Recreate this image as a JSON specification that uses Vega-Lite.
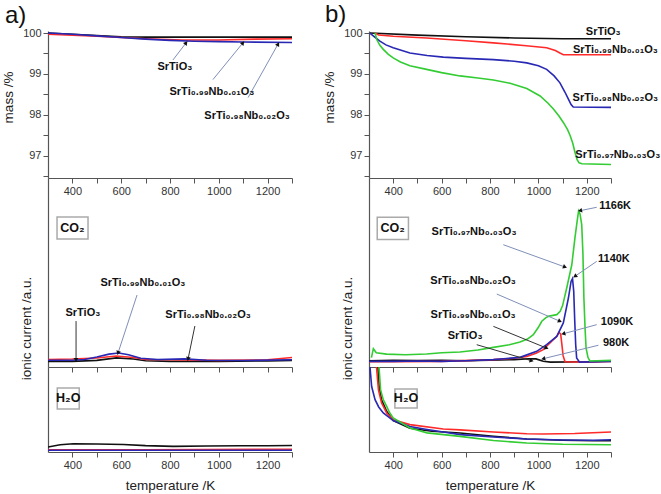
{
"$schema":"https://vega.github.io/schema/vega-lite/v6.json",
"padding":{"left":0,"top":2,"right":0,"bottom":2},
"background":"white",
"config":{"view":{"stroke":null},
 "axis":{"domainColor":"#555","tickColor":"#555","labelColor":"#333","labelFont":"Liberation Sans","labelFontSize":11,"titleFont":"Liberation Sans","titleFontSize":13.5,"titleFontWeight":"normal","titleColor":"#222","grid":false,"tickSize":5,"domainWidth":1.2},
 "title":{"font":"Liberation Sans","fontSize":24,"fontWeight":"normal","anchor":"start","frame":"group","color":"#111"},
 "point":{"shape":"triangle-up","filled":true,"size":22,"color":"#111","opacity":1}
},
"datasets":{
"massA":[
{"s":"x0","T":300,"v":100},{"s":"x0","T":400,"v":99.97},{"s":"x0","T":500,"v":99.94},{"s":"x0","T":600,"v":99.91},{"s":"x0","T":700,"v":99.9},{"s":"x0","T":900,"v":99.9},{"s":"x0","T":1100,"v":99.9},{"s":"x0","T":1300,"v":99.9},
{"s":"x1","T":300,"v":99.97},{"s":"x1","T":500,"v":99.92},{"s":"x1","T":700,"v":99.86},{"s":"x1","T":850,"v":99.83},{"s":"x1","T":1000,"v":99.83},{"s":"x1","T":1150,"v":99.85},{"s":"x1","T":1300,"v":99.86},
{"s":"x2","T":300,"v":100},{"s":"x2","T":400,"v":99.97},{"s":"x2","T":500,"v":99.93},{"s":"x2","T":600,"v":99.89},{"s":"x2","T":700,"v":99.85},{"s":"x2","T":800,"v":99.82},{"s":"x2","T":900,"v":99.8},{"s":"x2","T":1000,"v":99.79},{"s":"x2","T":1100,"v":99.78},{"s":"x2","T":1300,"v":99.77}
],
"massB":[
{"s":"x0","T":304,"v":100},{"s":"x0","T":500,"v":99.95},{"s":"x0","T":700,"v":99.91},{"s":"x0","T":900,"v":99.88},{"s":"x0","T":1100,"v":99.86},{"s":"x0","T":1300,"v":99.86},
{"s":"x1","T":325,"v":100},{"s":"x1","T":340,"v":99.95},{"s":"x1","T":400,"v":99.92},{"s":"x1","T":538,"v":99.88},{"s":"x1","T":700,"v":99.81},{"s":"x1","T":814,"v":99.76},{"s":"x1","T":950,"v":99.69},{"s":"x1","T":1034,"v":99.64},{"s":"x1","T":1070,"v":99.57},{"s":"x1","T":1089,"v":99.51},{"s":"x1","T":1103,"v":99.47},{"s":"x1","T":1300,"v":99.47},
{"s":"x2","T":304,"v":100},{"s":"x2","T":320,"v":99.92},{"s":"x2","T":345,"v":99.8},{"s":"x2","T":370,"v":99.71},{"s":"x2","T":400,"v":99.64},{"s":"x2","T":469,"v":99.51},{"s":"x2","T":540,"v":99.45},{"s":"x2","T":607,"v":99.41},{"s":"x2","T":700,"v":99.38},{"s":"x2","T":814,"v":99.35},{"s":"x2","T":900,"v":99.31},{"s":"x2","T":952,"v":99.27},{"s":"x2","T":1000,"v":99.2},{"s":"x2","T":1034,"v":99.11},{"s":"x2","T":1065,"v":98.95},{"s":"x2","T":1089,"v":98.78},{"s":"x2","T":1110,"v":98.55},{"s":"x2","T":1124,"v":98.38},{"s":"x2","T":1135,"v":98.25},{"s":"x2","T":1144,"v":98.19},{"s":"x2","T":1300,"v":98.18},
{"s":"x3","T":325,"v":100},{"s":"x3","T":332,"v":99.84},{"s":"x3","T":345,"v":99.7},{"s":"x3","T":359,"v":99.6},{"s":"x3","T":380,"v":99.48},{"s":"x3","T":400,"v":99.39},{"s":"x3","T":430,"v":99.29},{"s":"x3","T":469,"v":99.2},{"s":"x3","T":538,"v":99.11},{"s":"x3","T":600,"v":99.03},{"s":"x3","T":676,"v":98.95},{"s":"x3","T":750,"v":98.9},{"s":"x3","T":814,"v":98.85},{"s":"x3","T":883,"v":98.77},{"s":"x3","T":952,"v":98.64},{"s":"x3","T":1007,"v":98.46},{"s":"x3","T":1040,"v":98.28},{"s":"x3","T":1062,"v":98.14},{"s":"x3","T":1085,"v":97.97},{"s":"x3","T":1103,"v":97.81},{"s":"x3","T":1120,"v":97.64},{"s":"x3","T":1131,"v":97.49},{"s":"x3","T":1142,"v":97.3},{"s":"x3","T":1151,"v":97.08},{"s":"x3","T":1160,"v":96.9},{"s":"x3","T":1168,"v":96.82},{"s":"x3","T":1180,"v":96.8},{"s":"x3","T":1300,"v":96.78}
],
"co2A":[
{"s":"x0","T":300,"v":3.0},{"s":"x0","T":400,"v":3.0},{"s":"x0","T":500,"v":3.5},{"s":"x0","T":580,"v":4.8},{"s":"x0","T":650,"v":4.2},{"s":"x0","T":700,"v":3.3},{"s":"x0","T":800,"v":3.0},{"s":"x0","T":1000,"v":3.0},{"s":"x0","T":1200,"v":3.2},{"s":"x0","T":1300,"v":3.5},
{"s":"x1","T":300,"v":4.0},{"s":"x1","T":400,"v":4.2},{"s":"x1","T":500,"v":4.8},{"s":"x1","T":580,"v":5.8},{"s":"x1","T":650,"v":5.0},{"s":"x1","T":700,"v":4.0},{"s":"x1","T":800,"v":3.8},{"s":"x1","T":1000,"v":3.5},{"s":"x1","T":1200,"v":3.8},{"s":"x1","T":1300,"v":5.0},
{"s":"x2","T":300,"v":3.6},{"s":"x2","T":400,"v":3.6},{"s":"x2","T":450,"v":4.0},{"s":"x2","T":500,"v":5.3},{"s":"x2","T":550,"v":6.8},{"s":"x2","T":590,"v":7.4},{"s":"x2","T":630,"v":6.5},{"s":"x2","T":680,"v":4.6},{"s":"x2","T":750,"v":4.0},{"s":"x2","T":860,"v":4.3},{"s":"x2","T":950,"v":3.6},{"s":"x2","T":1100,"v":3.4},{"s":"x2","T":1300,"v":3.8}
],
"co2B":[
{"s":"x0","T":300,"v":3.3},{"s":"x0","T":400,"v":3.6},{"s":"x0","T":500,"v":3.4},{"s":"x0","T":600,"v":3.5},{"s":"x0","T":700,"v":3.3},{"s":"x0","T":800,"v":3.6},{"s":"x0","T":900,"v":3.9},{"s":"x0","T":960,"v":4.4},{"s":"x0","T":990,"v":4.3},{"s":"x0","T":1020,"v":3.0},{"s":"x0","T":1050,"v":2.6},{"s":"x0","T":1200,"v":2.8},{"s":"x0","T":1300,"v":3.2},
{"s":"x1","T":300,"v":2.8},{"s":"x1","T":400,"v":2.8},{"s":"x1","T":600,"v":3.0},{"s":"x1","T":814,"v":3.9},{"s":"x1","T":900,"v":4.6},{"s":"x1","T":952,"v":5.6},{"s":"x1","T":990,"v":7.3},{"s":"x1","T":1020,"v":9.2},{"s":"x1","T":1055,"v":13.6},{"s":"x1","T":1076,"v":16.2},{"s":"x1","T":1085,"v":18.3},{"s":"x1","T":1092,"v":17.5},{"s":"x1","T":1097,"v":12},{"s":"x1","T":1102,"v":6},{"s":"x1","T":1110,"v":2.8},{"s":"x1","T":1200,"v":2.6},{"s":"x1","T":1300,"v":3.0},
{"s":"x2","T":300,"v":3.0},{"s":"x2","T":400,"v":3.0},{"s":"x2","T":500,"v":3.2},{"s":"x2","T":600,"v":3.0},{"s":"x2","T":700,"v":3.3},{"s":"x2","T":814,"v":3.9},{"s":"x2","T":924,"v":5.1},{"s":"x2","T":993,"v":8.3},{"s":"x2","T":1034,"v":11.8},{"s":"x2","T":1076,"v":16.2},{"s":"x2","T":1103,"v":23.3},{"s":"x2","T":1124,"v":36.5},{"s":"x2","T":1135,"v":45.3},{"s":"x2","T":1141,"v":46.8},{"s":"x2","T":1146,"v":40},{"s":"x2","T":1150,"v":25},{"s":"x2","T":1154,"v":12},{"s":"x2","T":1158,"v":4.8},{"s":"x2","T":1170,"v":2.6},{"s":"x2","T":1300,"v":3.0},
{"s":"x3","T":310,"v":5},{"s":"x3","T":318,"v":9.7},{"s":"x3","T":330,"v":7.5},{"s":"x3","T":373,"v":6.8},{"s":"x3","T":450,"v":6.5},{"s":"x3","T":538,"v":6.9},{"s":"x3","T":600,"v":7.5},{"s":"x3","T":676,"v":7.9},{"s":"x3","T":750,"v":9},{"s":"x3","T":814,"v":10.4},{"s":"x3","T":880,"v":11.8},{"s":"x3","T":924,"v":13.2},{"s":"x3","T":955,"v":14.8},{"s":"x3","T":979,"v":17.1},{"s":"x3","T":1000,"v":21},{"s":"x3","T":1014,"v":24.2},{"s":"x3","T":1030,"v":26},{"s":"x3","T":1041,"v":26.8},{"s":"x3","T":1060,"v":27.3},{"s":"x3","T":1076,"v":27.7},{"s":"x3","T":1090,"v":29.5},{"s":"x3","T":1100,"v":32.5},{"s":"x3","T":1117,"v":41.8},{"s":"x3","T":1138,"v":54.1},{"s":"x3","T":1151,"v":68.3},{"s":"x3","T":1160,"v":77},{"s":"x3","T":1166,"v":82.6},{"s":"x3","T":1172,"v":81},{"s":"x3","T":1179,"v":75.3},{"s":"x3","T":1184,"v":60},{"s":"x3","T":1188,"v":36.5},{"s":"x3","T":1193,"v":20},{"s":"x3","T":1197,"v":10},{"s":"x3","T":1205,"v":5},{"s":"x3","T":1213,"v":3.2},{"s":"x3","T":1300,"v":3.5}
],
"h2oA":[
{"s":"x0","T":300,"v":5.8},{"s":"x0","T":350,"v":8.5},{"s":"x0","T":404,"v":9.7},{"s":"x0","T":500,"v":9.5},{"s":"x0","T":609,"v":8.9},{"s":"x0","T":700,"v":7.5},{"s":"x0","T":813,"v":6.6},{"s":"x0","T":950,"v":7.0},{"s":"x0","T":1087,"v":7.4},{"s":"x0","T":1200,"v":7.3},{"s":"x0","T":1300,"v":7.7},
{"s":"x1","T":300,"v":2.7},{"s":"x1","T":700,"v":2.7},{"s":"x1","T":1300,"v":3.3},
{"s":"x2","T":300,"v":2.0},{"s":"x2","T":1300,"v":2.0}
],
"h2oB":[
{"s":"x0","T":334,"v":110},{"s":"x0","T":342,"v":77.3},{"s":"x0","T":352,"v":61.5},{"s":"x0","T":373,"v":47.9},{"s":"x0","T":400,"v":37},{"s":"x0","T":469,"v":28},{"s":"x0","T":560,"v":24.5},{"s":"x0","T":676,"v":22.4},{"s":"x0","T":814,"v":18.5},{"s":"x0","T":952,"v":15.3},{"s":"x0","T":1100,"v":13.8},{"s":"x0","T":1227,"v":13.3},{"s":"x0","T":1300,"v":13.3},
{"s":"x1","T":328,"v":110},{"s":"x1","T":339,"v":73},{"s":"x1","T":352,"v":57.6},{"s":"x1","T":373,"v":45.9},{"s":"x1","T":400,"v":38},{"s":"x1","T":469,"v":32.2},{"s":"x1","T":607,"v":27},{"s":"x1","T":676,"v":26},{"s":"x1","T":814,"v":23.5},{"s":"x1","T":952,"v":21.5},{"s":"x1","T":1020,"v":21.2},{"s":"x1","T":1150,"v":21.8},{"s":"x1","T":1300,"v":23.5},
{"s":"x2","T":301,"v":110},{"s":"x2","T":311,"v":77},{"s":"x2","T":325,"v":61.5},{"s":"x2","T":340,"v":53},{"s":"x2","T":359,"v":46},{"s":"x2","T":400,"v":37},{"s":"x2","T":469,"v":30},{"s":"x2","T":540,"v":26.5},{"s":"x2","T":607,"v":23.5},{"s":"x2","T":676,"v":20.4},{"s":"x2","T":814,"v":17.6},{"s":"x2","T":952,"v":15.3},{"s":"x2","T":1100,"v":14.2},{"s":"x2","T":1227,"v":13.9},{"s":"x2","T":1300,"v":14.5},
{"s":"x3","T":339,"v":110},{"s":"x3","T":348,"v":73},{"s":"x3","T":359,"v":61.5},{"s":"x3","T":373,"v":53.7},{"s":"x3","T":386,"v":45.9},{"s":"x3","T":400,"v":40},{"s":"x3","T":469,"v":28.2},{"s":"x3","T":540,"v":22.5},{"s":"x3","T":676,"v":18.4},{"s":"x3","T":814,"v":13.5},{"s":"x3","T":952,"v":10.6},{"s":"x3","T":1100,"v":9.2},{"s":"x3","T":1300,"v":8.6}
],
"lblMassA":[{"T":820,"v":99.17,"label":"SrTiO₃"},{"T":972,"v":98.56,"label":"SrTi₀.₉₉Nb₀.₀₁O₃"},{"T":1116,"v":97.98,"label":"SrTi₀.₉₈Nb₀.₀₂O₃"}],
"arrMassA":[{"T":812,"v":99.34,"T2":866,"v2":99.76},{"T":976,"v":98.86,"T2":1099,"v2":99.76},{"T":1120,"v":98.42,"T2":1243,"v2":99.73}],
"lblMassB":[{"T":1268,"v":100.03,"label":"SrTiO₃"},{"T":1318,"v":99.59,"label":"SrTi₀.₉₉Nb₀.₀₁O₃"},{"T":1318,"v":98.42,"label":"SrTi₀.₉₈Nb₀.₀₂O₃"},{"T":1328,"v":97.02,"label":"SrTi₀.₉₇Nb₀.₀₃O₃"}],
"lblCo2A":[{"T":689,"v":44.4,"label":"SrTi₀.₉₉Nb₀.₀₁O₃"},{"T":443,"v":28.6,"label":"SrTiO₃"},{"T":956,"v":27.5,"label":"SrTi₀.₉₈Nb₀.₀₂O₃"}],
"arrCo2Agrey":[{"T":665,"v":38.1,"T2":587,"v2":7.4}],
"arrCo2Adark":[{"T":415,"v":24.3,"T2":415,"v2":3.7},{"T":902,"v":21.7,"T2":874,"v2":4.2}],
"lblCo2B":[{"T":1317,"v":85.2,"label":"1166K"},{"T":1312,"v":57.3,"label":"1140K"},{"T":1325,"v":23.8,"label":"1090K"},{"T":1321,"v":12.7,"label":"980K"},{"T":734,"v":71.4,"label":"SrTi₀.₉₇Nb₀.₀₃O₃"},{"T":730,"v":45.5,"label":"SrTi₀.₉₈Nb₀.₀₂O₃"},{"T":730,"v":27.5,"label":"SrTi₀.₉₉Nb₀.₀₁O₃"},{"T":697,"v":16.4,"label":"SrTiO₃"}],
"arrCo2Bgrey":[{"T":1241,"v":84.5,"T2":1172,"v2":82.7},{"T":1241,"v":55.9,"T2":1151,"v2":48},{"T":1241,"v":22.4,"T2":1103,"v2":17.6},{"T":1248,"v":11.5,"T2":1020,"v2":4.4},{"T":855,"v":64.7,"T2":1110,"v2":52.9},{"T":828,"v":38.6,"T2":1089,"v2":24.2}],
"arrCo2Bdark":[{"T":814,"v":21.5,"T2":1034,"v2":10},{"T":745,"v":11.8,"T2":972,"v2":3.3}],
"boxCo2A":[{"T":337,"v":67.7,"T2":464,"v2":79.4,"cT":400,"cv":73.5,"label":"CO₂"}],
"boxCo2B":[{"T":334,"v":67.4,"T2":463,"v2":79.2,"cT":398,"cv":73.3,"label":"CO₂"}],
"boxH2oA":[{"T":338,"v":50.6,"T2":428,"v2":75.3,"cT":383,"cv":63,"label":"H₂O"}],
"boxH2oB":[{"T":407,"v":51.8,"T2":499,"v2":74,"cT":453,"cv":63,"label":"H₂O"}]
},
"columns":2,
"spacing":{"row":0,"column":77},
"bounds":"flush",
"concat":[
{"width":244,"height":147,"title":{"text":"a)","dx":-43,"offset":-1},
 "encoding":{
  "x":{"field":"T","type":"quantitative","scale":{"domain":[300,1300],"nice":false,"zero":false},"axis":{"title":null,"values":[400,500,600,700,800,900,1000,1100,1200,1300],"format":"d","labelExpr":"datum.value % 200 == 0 && datum.value < 1300 ? datum.label : ''"}},
  "y":{"field":"v","type":"quantitative","scale":{"domain":[96.45,100.05],"nice":false,"zero":false},"axis":{"title":"mass /%","titleX":-33,"titleY":66,"values":[96.5,97,97.5,98,98.5,99,99.5,100],"format":".0f","labelExpr":"datum.value % 1 == 0 ? datum.label : ''"}}},
 "layer":[
  {"data":{"name":"massA"},"mark":{"type":"line","strokeWidth":1.6,"clip":true},"encoding":{"color":{"field":"s","type":"nominal","scale":{"domain":["x0","x1","x2","x3"],"range":["#111111","#ff2a2a","#2828b4","#33cc33"]},"legend":null}}},
  {"data":{"name":"arrMassA"},"mark":{"type":"rule","color":"#7f8fb8","strokeWidth":1},"encoding":{"x2":{"field":"T2"},"y2":{"field":"v2"}}},
  {"data":{"name":"arrMassA"},"transform":[{"filter":"datum.T2 == 866"}],"mark":{"type":"point","angle":37.7},"encoding":{"x":{"field":"T2","type":"quantitative"},"y":{"field":"v2","type":"quantitative"}}},
  {"data":{"name":"arrMassA"},"transform":[{"filter":"datum.T2 == 1099"}],"mark":{"type":"point","angle":39.3},"encoding":{"x":{"field":"T2","type":"quantitative"},"y":{"field":"v2","type":"quantitative"}}},
  {"data":{"name":"arrMassA"},"transform":[{"filter":"datum.T2 == 1243"}],"mark":{"type":"point","angle":29.3},"encoding":{"x":{"field":"T2","type":"quantitative"},"y":{"field":"v2","type":"quantitative"}}},
  {"data":{"name":"lblMassA"},"mark":{"type":"text","font":"Liberation Sans","fontWeight":"bold","fontSize":11,"baseline":"middle","align":"center","color":"#111"},"encoding":{"text":{"field":"label"}}}
 ]},
{"width":242,"height":147,"title":{"text":"b)","dx":-44,"offset":-1},
 "encoding":{
  "x":{"field":"T","type":"quantitative","scale":{"domain":[300,1300],"nice":false,"zero":false},"axis":{"title":null,"values":[400,500,600,700,800,900,1000,1100,1200,1300],"format":"d","labelExpr":"datum.value % 200 == 0 && datum.value < 1300 ? datum.label : ''"}},
  "y":{"field":"v","type":"quantitative","scale":{"domain":[96.45,100.05],"nice":false,"zero":false},"axis":{"title":"mass /%","titleX":-33,"titleY":66,"values":[96.5,97,97.5,98,98.5,99,99.5,100],"format":".0f","labelExpr":"datum.value % 1 == 0 ? datum.label : ''"}}},
 "layer":[
  {"data":{"name":"massB"},"mark":{"type":"line","strokeWidth":1.6,"clip":true},"encoding":{"color":{"field":"s","type":"nominal","scale":{"domain":["x0","x1","x2","x3"],"range":["#111111","#ff2a2a","#2828b4","#33cc33"]},"legend":null}}},
  {"data":{"name":"lblMassB"},"mark":{"type":"text","font":"Liberation Sans","fontWeight":"bold","fontSize":11,"baseline":"middle","align":"center","color":"#111"},"encoding":{"text":{"field":"label"}}}
 ]},
{"width":244,"height":189,
 "encoding":{
  "x":{"field":"T","type":"quantitative","scale":{"domain":[300,1300],"nice":false,"zero":false},"axis":{"title":null,"labels":false,"values":[400,500,600,700,800,900,1000,1100,1200,1300]}},
  "y":{"field":"v","type":"quantitative","scale":{"domain":[0,100],"nice":false,"zero":false},"axis":{"title":"ionic current /a.u.","titleX":-15,"titleY":150,"ticks":false,"labels":false}}},
 "layer":[
  {"data":{"name":"boxCo2A"},"mark":{"type":"rect","fill":"white","stroke":"#aaaaaa","strokeWidth":1.5},"encoding":{"x2":{"field":"T2"},"y2":{"field":"v2"}}},
  {"data":{"name":"boxCo2A"},"mark":{"type":"text","font":"Liberation Sans","fontWeight":"bold","fontSize":12.5,"baseline":"middle","align":"center","color":"#111"},"encoding":{"x":{"field":"cT","type":"quantitative"},"y":{"field":"cv","type":"quantitative"},"text":{"field":"label"}}},
  {"data":{"name":"co2A"},"mark":{"type":"line","strokeWidth":1.6,"clip":true},"encoding":{"color":{"field":"s","type":"nominal","scale":{"domain":["x0","x1","x2","x3"],"range":["#111111","#ff2a2a","#2828b4","#33cc33"]},"legend":null}}},
  {"data":{"name":"arrCo2Agrey"},"mark":{"type":"rule","color":"#7f8fb8","strokeWidth":1},"encoding":{"x2":{"field":"T2"},"y2":{"field":"v2"}}},
  {"data":{"name":"arrCo2Adark"},"mark":{"type":"rule","color":"#333333","strokeWidth":1},"encoding":{"x2":{"field":"T2"},"y2":{"field":"v2"}}},
  {"data":{"name":"arrCo2Agrey"},"mark":{"type":"point","angle":-161.9},"encoding":{"x":{"field":"T2","type":"quantitative"},"y":{"field":"v2","type":"quantitative"}}},
  {"data":{"name":"arrCo2Adark"},"transform":[{"filter":"datum.T2 == 415"}],"mark":{"type":"point","angle":180},"encoding":{"x":{"field":"T2","type":"quantitative"},"y":{"field":"v2","type":"quantitative"}}},
  {"data":{"name":"arrCo2Adark"},"transform":[{"filter":"datum.T2 == 874"}],"mark":{"type":"point","angle":-168.4},"encoding":{"x":{"field":"T2","type":"quantitative"},"y":{"field":"v2","type":"quantitative"}}},
  {"data":{"name":"lblCo2A"},"mark":{"type":"text","font":"Liberation Sans","fontWeight":"bold","fontSize":11,"baseline":"middle","align":"center","color":"#111"},"encoding":{"text":{"field":"label"}}}
 ]},
{"width":242,"height":189,
 "encoding":{
  "x":{"field":"T","type":"quantitative","scale":{"domain":[300,1300],"nice":false,"zero":false},"axis":{"title":null,"labels":false,"values":[400,500,600,700,800,900,1000,1100,1200,1300]}},
  "y":{"field":"v","type":"quantitative","scale":{"domain":[0,100],"nice":false,"zero":false},"axis":{"title":"ionic current /a.u.","titleX":-15,"titleY":150,"ticks":false,"labels":false}}},
 "layer":[
  {"data":{"name":"boxCo2B"},"mark":{"type":"rect","fill":"white","stroke":"#aaaaaa","strokeWidth":1.5},"encoding":{"x2":{"field":"T2"},"y2":{"field":"v2"}}},
  {"data":{"name":"boxCo2B"},"mark":{"type":"text","font":"Liberation Sans","fontWeight":"bold","fontSize":12.5,"baseline":"middle","align":"center","color":"#111"},"encoding":{"x":{"field":"cT","type":"quantitative"},"y":{"field":"cv","type":"quantitative"},"text":{"field":"label"}}},
  {"data":{"name":"co2B"},"mark":{"type":"line","strokeWidth":1.6,"clip":true},"encoding":{"color":{"field":"s","type":"nominal","scale":{"domain":["x0","x1","x2","x3"],"range":["#111111","#ff2a2a","#2828b4","#33cc33"]},"legend":null}}},
  {"data":{"name":"arrCo2Bgrey"},"mark":{"type":"rule","color":"#7f8fb8","strokeWidth":1},"encoding":{"x2":{"field":"T2"},"y2":{"field":"v2"}}},
  {"data":{"name":"arrCo2Bdark"},"mark":{"type":"rule","color":"#333333","strokeWidth":1},"encoding":{"x2":{"field":"T2"},"y2":{"field":"v2"}}},
  {"data":{"name":"arrCo2Bgrey"},"transform":[{"filter":"datum.T2 == 1172"}],"mark":{"type":"point","angle":-101.5},"encoding":{"x":{"field":"T2","type":"quantitative"},"y":{"field":"v2","type":"quantitative"}}},
  {"data":{"name":"arrCo2Bgrey"},"transform":[{"filter":"datum.T2 == 1151"}],"mark":{"type":"point","angle":-124.4},"encoding":{"x":{"field":"T2","type":"quantitative"},"y":{"field":"v2","type":"quantitative"}}},
  {"data":{"name":"arrCo2Bgrey"},"transform":[{"filter":"datum.T2 == 1103"}],"mark":{"type":"point","angle":-105.2},"encoding":{"x":{"field":"T2","type":"quantitative"},"y":{"field":"v2","type":"quantitative"}}},
  {"data":{"name":"arrCo2Bgrey"},"transform":[{"filter":"datum.T2 == 1020"}],"mark":{"type":"point","angle":-103.6},"encoding":{"x":{"field":"T2","type":"quantitative"},"y":{"field":"v2","type":"quantitative"}}},
  {"data":{"name":"arrCo2Bgrey"},"transform":[{"filter":"datum.T2 == 1110"}],"mark":{"type":"point","angle":109.9},"encoding":{"x":{"field":"T2","type":"quantitative"},"y":{"field":"v2","type":"quantitative"}}},
  {"data":{"name":"arrCo2Bgrey"},"transform":[{"filter":"datum.T2 == 1089"}],"mark":{"type":"point","angle":113.3},"encoding":{"x":{"field":"T2","type":"quantitative"},"y":{"field":"v2","type":"quantitative"}}},
  {"data":{"name":"arrCo2Bdark"},"transform":[{"filter":"datum.T2 == 1034"}],"mark":{"type":"point","angle":112.2},"encoding":{"x":{"field":"T2","type":"quantitative"},"y":{"field":"v2","type":"quantitative"}}},
  {"data":{"name":"arrCo2Bdark"},"transform":[{"filter":"datum.T2 == 972"}],"mark":{"type":"point","angle":106.3},"encoding":{"x":{"field":"T2","type":"quantitative"},"y":{"field":"v2","type":"quantitative"}}},
  {"data":{"name":"lblCo2B"},"mark":{"type":"text","font":"Liberation Sans","fontWeight":"bold","fontSize":11,"baseline":"middle","align":"center","color":"#111"},"encoding":{"text":{"field":"label"}}}
 ]},
{"width":244,"height":85,
 "encoding":{
  "x":{"field":"T","type":"quantitative","scale":{"domain":[300,1300],"nice":false,"zero":false},"axis":{"title":"temperature /K","titlePadding":8,"values":[400,500,600,700,800,900,1000,1100,1200,1300],"format":"d","labelExpr":"datum.value % 200 == 0 && datum.value < 1300 ? datum.label : ''"}},
  "y":{"field":"v","type":"quantitative","scale":{"domain":[0,100],"nice":false,"zero":false},"axis":{"title":null,"ticks":false,"labels":false}}},
 "layer":[
  {"data":{"name":"boxH2oA"},"mark":{"type":"rect","fill":"white","stroke":"#aaaaaa","strokeWidth":1.5},"encoding":{"x2":{"field":"T2"},"y2":{"field":"v2"}}},
  {"data":{"name":"boxH2oA"},"mark":{"type":"text","font":"Liberation Sans","fontWeight":"bold","fontSize":12.5,"baseline":"middle","align":"center","color":"#111"},"encoding":{"x":{"field":"cT","type":"quantitative"},"y":{"field":"cv","type":"quantitative"},"text":{"field":"label"}}},
  {"data":{"name":"h2oA"},"mark":{"type":"line","strokeWidth":1.6,"clip":true},"encoding":{"color":{"field":"s","type":"nominal","scale":{"domain":["x0","x1","x2","x3"],"range":["#111111","#ff2a2a","#2828b4","#33cc33"]},"legend":null}}}
 ]},
{"width":242,"height":85,
 "encoding":{
  "x":{"field":"T","type":"quantitative","scale":{"domain":[300,1300],"nice":false,"zero":false},"axis":{"title":"temperature /K","titlePadding":8,"values":[400,500,600,700,800,900,1000,1100,1200,1300],"format":"d","labelExpr":"datum.value % 200 == 0 && datum.value < 1300 ? datum.label : ''"}},
  "y":{"field":"v","type":"quantitative","scale":{"domain":[0,100],"nice":false,"zero":false},"axis":{"title":null,"ticks":false,"labels":false}}},
 "layer":[
  {"data":{"name":"boxH2oB"},"mark":{"type":"rect","fill":"white","stroke":"#aaaaaa","strokeWidth":1.5},"encoding":{"x2":{"field":"T2"},"y2":{"field":"v2"}}},
  {"data":{"name":"boxH2oB"},"mark":{"type":"text","font":"Liberation Sans","fontWeight":"bold","fontSize":12.5,"baseline":"middle","align":"center","color":"#111"},"encoding":{"x":{"field":"cT","type":"quantitative"},"y":{"field":"cv","type":"quantitative"},"text":{"field":"label"}}},
  {"data":{"name":"h2oB"},"mark":{"type":"line","strokeWidth":1.6,"clip":true},"encoding":{"color":{"field":"s","type":"nominal","scale":{"domain":["x0","x1","x2","x3"],"range":["#111111","#ff2a2a","#2828b4","#33cc33"]},"legend":null}}}
 ]}
]
}
